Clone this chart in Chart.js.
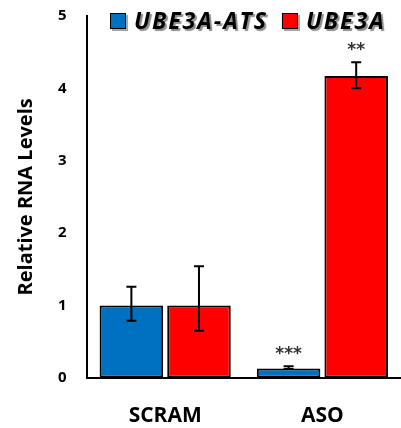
<!DOCTYPE html>
<html>
<head>
<meta charset="utf-8">
<script src="https://cdn.jsdelivr.net/npm/chart.js@4"></script>
<style>
  html, body { margin: 0; padding: 0; background: #fff; }
  #wrap { width: 401px; height: 428px; }
</style>
</head>
<body>
<div id="wrap"><canvas id="rnaChart"></canvas></div>
<script>
const groups = ["SCRAM", "ASO"];
const seriesNames = ["UBE3A-ATS", "UBE3A"];
const atsValues = [1.0, 0.13];
const atsLow = [0.79, 0.12];
const atsHigh = [1.26, 0.16];
const ube3aValues = [1.0, 4.17];
const ube3aLow = [0.65, 4.0];
const ube3aHigh = [1.54, 4.36];
const atsStars = ["", "***"];
const ube3aStars = ["", "**"];
const yTicks = [0, 1, 2, 3, 4, 5];

const errorBars = {
  id: "errorBars",
  afterDatasetsDraw(chart) {
    const ctx = chart.ctx;
    const y = chart.scales.y;
    ctx.save();
    ctx.strokeStyle = "#000";
    ctx.lineWidth = 2;
    chart.data.datasets.forEach((ds, i) => {
      const meta = chart.getDatasetMeta(i);
      meta.data.forEach((bar, j) => {
        const x = bar.x;
        const top = y.getPixelForValue(ds.high[j]);
        const bot = y.getPixelForValue(ds.low[j]);
        ctx.beginPath();
        ctx.moveTo(x, top);
        ctx.lineTo(x, bot);
        ctx.moveTo(x - 5, top);
        ctx.lineTo(x + 5, top);
        ctx.moveTo(x - 5, bot);
        ctx.lineTo(x + 5, bot);
        ctx.stroke();
        if (ds.stars[j]) {
          ctx.fillStyle = "#333";
          ctx.font = "bold 17px 'DejaVu Sans'";
          ctx.textAlign = "center";
          ctx.textBaseline = "middle";
          ctx.fillText(ds.stars[j], x, top - 12);
        }
      });
    });
    ctx.restore();
  }
};

const shadowLegend = {
  id: "shadowLegend",
  afterDraw(chart) {
    const ctx = chart.ctx;
    const area = chart.chartArea;
    ctx.save();
    ctx.font = "italic bold 23px 'Open Sans'";
    ctx.letterSpacing = "2px";
    ctx.textBaseline = "middle";
    const box = 16;
    const gap = 8;
    const spacing = 14;
    const items = chart.data.datasets.map(ds => ({
      text: ds.label, color: ds.backgroundColor,
      w: box + gap + ctx.measureText(ds.label).width
    }));
    let x = 110;
    const cy = area.top + 5;
    items.forEach(it => {
      ctx.fillStyle = "rgba(0,0,0,0.35)";
      ctx.fillRect(x + 2, cy - box / 2 + 2, box, box);
      ctx.fillStyle = it.color;
      ctx.fillRect(x, cy - box / 2, box, box);
      ctx.strokeStyle = "#000";
      ctx.lineWidth = 1;
      ctx.strokeRect(x + 0.5, cy - box / 2 + 0.5, box - 1, box - 1);
      ctx.shadowColor = "rgba(0,0,0,0.45)";
      ctx.shadowOffsetX = 2;
      ctx.shadowOffsetY = 2;
      ctx.shadowBlur = 1;
      ctx.fillStyle = "#000";
      ctx.fillText(it.text, x + box + gap, cy + 1);
      ctx.shadowColor = "transparent";
      x += it.w + spacing;
    });
    ctx.restore();
  }
};

new Chart(document.getElementById("rnaChart"), {
  type: "bar",
  data: {
    labels: groups,
    datasets: [
      {
        label: seriesNames[0],
        data: atsValues,
        low: atsLow,
        high: atsHigh,
        stars: atsStars,
        backgroundColor: "#0070c0",
        borderColor: "#000",
        borderWidth: 2,
        borderSkipped: false,
        categoryPercentage: 0.86,
        barPercentage: 0.94
      },
      {
        label: seriesNames[1],
        data: ube3aValues,
        low: ube3aLow,
        high: ube3aHigh,
        stars: ube3aStars,
        backgroundColor: "#ff0000",
        borderColor: "#000",
        borderWidth: 2,
        borderSkipped: false,
        categoryPercentage: 0.86,
        barPercentage: 0.94
      }
    ]
  },
  options: {
    responsive: true,
    maintainAspectRatio: false,
    animation: false,
    layout: { padding: { top: 16, right: 0, bottom: -27, left: 14 } },
    plugins: {
      legend: { display: false },
      tooltip: { enabled: false }
    },
    scales: {
      x: {
        grid: { display: false, drawTicks: false },
        border: { color: "#000", width: 2 },
        ticks: {
          color: "#000",
          padding: 26,
          font: { family: "'Open Sans'", weight: "bold", size: 21 }
        }
      },
      y: {
        min: 0,
        max: 5,
        afterBuildTicks(axis) {
          axis.ticks = yTicks.map(v => ({ value: v }));
        },
        afterFit(axis) {
          axis.paddingTop = 0;
        },
        grid: { display: false, drawTicks: false },
        border: { color: "#000", width: 2 },
        ticks: {
          color: "#000",
          padding: 20,
          font: { family: "'Open Sans'", weight: "bold", size: 15 }
        },
        title: {
          display: true,
          text: "Relative RNA Levels",
          color: "#000",
          padding: { top: 0, bottom: 0 },
          font: { family: "'Open Sans'", weight: "bold", size: 20 }
        }
      }
    }
  },
  plugins: [errorBars, shadowLegend]
});
</script>
</body>
</html>
